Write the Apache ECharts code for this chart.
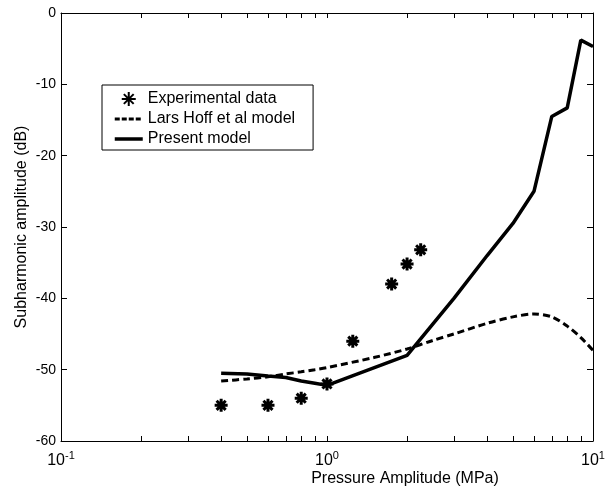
<!DOCTYPE html>
<html>
<head>
<meta charset="utf-8">
<script src="https://cdn.jsdelivr.net/npm/echarts@6/dist/echarts.min.js"></script>
<style>
  html, body { margin: 0; background: #fff; }
  #chart { width: 605px; height: 489px; }
</style>
</head>
<body>
<div id="chart"></div>
<script>
// measured points (pressure in MPa, amplitude in dB)
const expX = [0.4, 0.6, 0.8, 1.0, 1.25, 1.75, 2.0, 2.25];
const expY = [-55, -55, -54, -52, -46, -38, -35.2, -33.2];

const hoffX = [0.4, 0.5, 0.6, 0.7, 0.8, 0.9, 1.0, 1.5, 2.0, 2.5, 3.0, 4.0, 5.0, 6.0, 7.0, 8.0, 9.0, 10];
const hoffY = [-51.6, -51.3, -51.0, -50.6, -50.3, -50.0, -49.7, -48.3, -47.1, -45.9, -45.0, -43.5, -42.6, -42.2, -42.6, -43.9, -45.5, -47.3];

const modelX = [0.4, 0.5, 0.6, 0.7, 0.8, 0.9, 1.0, 2.0, 3.0, 4.0, 5.0, 6.0, 7.0, 8.0, 9.0, 10];
const modelY = [-50.5, -50.6, -50.9, -51.1, -51.6, -51.9, -52.2, -48.0, -40.0, -34.0, -29.5, -25.0, -14.5, -13.3, -3.8, -4.7];

const seriesNames = ['Experimental data', 'Lars Hoff et al model', 'Present model'];

// log tick marks, decades plus 2..9
const xTicks = [0.1, 0.2, 0.3, 0.4, 0.5, 0.6, 0.7, 0.8, 0.9, 1, 2, 3, 4, 5, 6, 7, 8, 9, 10];

const font = 'Liberation Sans, Arial, Helvetica, sans-serif';
const asterisk = 'path://M0,5L10,5M5,0L5,10M1.5,1.5L8.5,8.5M1.5,8.5L8.5,1.5';
const pairs = (xs, ys) => xs.map((x, i) => [x, ys[i]]);
const tickLogs = xTicks.map(v => Math.log10(v));
const noDot = {color: 'transparent', borderColor: 'transparent', borderWidth: 0};

// plain value axis in log10 space, only used to draw the ticks
const tickAxis = (position, showLine) => ({
    type: 'value',
    position: position,
    min: -1,
    max: 1,
    axisLine: {show: showLine, onZero: false, lineStyle: {color: '#000', width: 1}},
    axisTick: {show: true, inside: true, length: 5, customValues: tickLogs, lineStyle: {color: '#000'}},
    axisLabel: {show: false},
    splitLine: {show: false}
});

const chart = echarts.init(document.getElementById('chart'));

const option = {
    animation: false,
    backgroundColor: '#fff',
    grid: {left: 61, right: 12, top: 13, bottom: 48, outerBoundsMode: 'none'},
    legend: {
        orient: 'vertical',
        left: 102,
        top: 85,
        itemWidth: 28,
        itemHeight: 14,
        itemGap: 4,
        padding: [6, 18, 3, 11],
        borderColor: '#000',
        borderWidth: 1,
        borderRadius: 0,
        backgroundColor: '#fff',
        selectedMode: false,
        textStyle: {fontSize: 16, color: '#000', fontFamily: font},
        data: [
            {name: seriesNames[0], icon: asterisk},
            {name: seriesNames[1], itemStyle: noDot, lineStyle: {width: 3, type: [5, 2]}},
            {name: seriesNames[2], itemStyle: noDot, lineStyle: {width: 3.5}}
        ]
    },
    xAxis: [
        {
            type: 'log',
            logBase: 10,
            min: 0.1,
            max: 10,
            position: 'bottom',
            name: 'Pressure Amplitude (MPa)',
            nameLocation: 'middle',
            nameGap: 30,
            nameMoveOverlap: false,
            nameTextStyle: {fontSize: 16, color: '#000', fontFamily: font, padding: [0, 0, 0, 156]},
            axisLine: {show: true, onZero: false, lineStyle: {color: '#000', width: 1}},
            axisTick: {show: false},
            splitLine: {show: false},
            axisLabel: {
                color: '#000',
                fontSize: 16,
                fontFamily: font,
                lineHeight: 22,
                margin: 9,
                formatter: v => '10{sup|' + Math.round(Math.log10(v)) + '}',
                rich: {sup: {fontSize: 11, fontFamily: font, color: '#000', verticalAlign: 'top'}}
            }
        },
        tickAxis('bottom', false),
        tickAxis('top', true)
    ],
    yAxis: [
        {
            type: 'value',
            min: -60,
            max: 0,
            interval: 10,
            position: 'left',
            name: 'Subharmonic amplitude (dB)',
            nameLocation: 'middle',
            nameGap: 31,
            nameMoveOverlap: false,
            nameTextStyle: {fontSize: 16, color: '#000', fontFamily: font},
            axisLine: {show: true, onZero: false, lineStyle: {color: '#000', width: 1}},
            axisTick: {show: true, inside: true, length: 6, lineStyle: {color: '#000'}},
            axisLabel: {color: '#000', fontSize: 14, fontFamily: font, margin: 5},
            splitLine: {show: false}
        },
        {
            type: 'value',
            min: -60,
            max: 0,
            interval: 10,
            position: 'right',
            axisLine: {show: true, onZero: false, lineStyle: {color: '#000', width: 1}},
            axisTick: {show: true, inside: true, length: 6, lineStyle: {color: '#000'}},
            axisLabel: {show: false},
            splitLine: {show: false}
        }
    ],
    series: [
        {
            name: seriesNames[0],
            type: 'scatter',
            xAxisIndex: 0,
            yAxisIndex: 0,
            symbol: asterisk,
            symbolSize: 13,
            itemStyle: {color: '#000', borderColor: '#000', borderWidth: 3, opacity: 1},
            data: pairs(expX, expY),
            z: 3
        },
        {
            name: seriesNames[1],
            type: 'line',
            xAxisIndex: 0,
            yAxisIndex: 0,
            symbol: 'none',
            smooth: 0.3,
            lineStyle: {color: '#000', width: 3, type: [7, 4]},
            itemStyle: noDot,
            data: pairs(hoffX, hoffY)
        },
        {
            name: seriesNames[2],
            type: 'line',
            xAxisIndex: 0,
            yAxisIndex: 0,
            symbol: 'none',
            lineStyle: {color: '#000', width: 3.5},
            itemStyle: noDot,
            data: pairs(modelX, modelY)
        }
    ]
};

chart.setOption(option);
</script>
</body>
</html>
